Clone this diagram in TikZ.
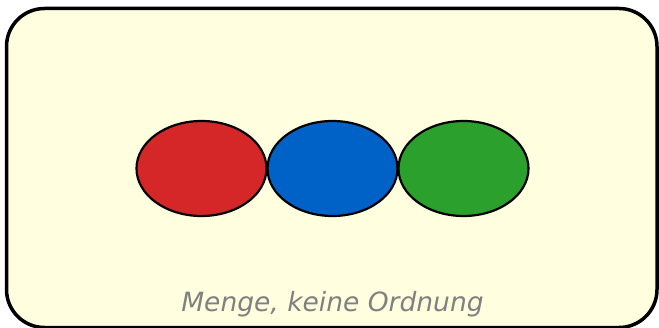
\documentclass[tikz,border=0pt]{standalone}
\usepackage{fontspec}
\setmainfont{DejaVu Sans}
\usetikzlibrary{shapes.geometric}
\definecolor{setfill}{HTML}{FFFFE0}
\definecolor{elred}{HTML}{D62728}
\definecolor{elblue}{HTML}{0062C6}
\definecolor{elgreen}{HTML}{2CA02C}
\definecolor{labelgray}{HTML}{808080}

\begin{document}
\begin{tikzpicture}[x=1pt, y=1pt,
  element/.style={ellipse, draw=black, line width=2.2pt, minimum width=130pt,
    minimum height=95pt, inner sep=0pt}]
  \useasboundingbox (0,0) rectangle (659,327);
  \draw[fill=setfill, line width=3.5pt, rounded corners=38pt] (6.5,-0.5) rectangle (657,318.5);
  \node[element, fill=elred] (red) at (201.5,158.5) {};
  \node[element, fill=elblue] (blue) at (332.5,158.5) {};
  \node[element, fill=elgreen] (green) at (463.5,158.5) {};
  \node[anchor=base, text=labelgray, font=\fontsize{26.5}{30}\selectfont\itshape] (caption)
    at (332.5,15.3) {Menge, keine Ordnung};
\end{tikzpicture}
\end{document}
